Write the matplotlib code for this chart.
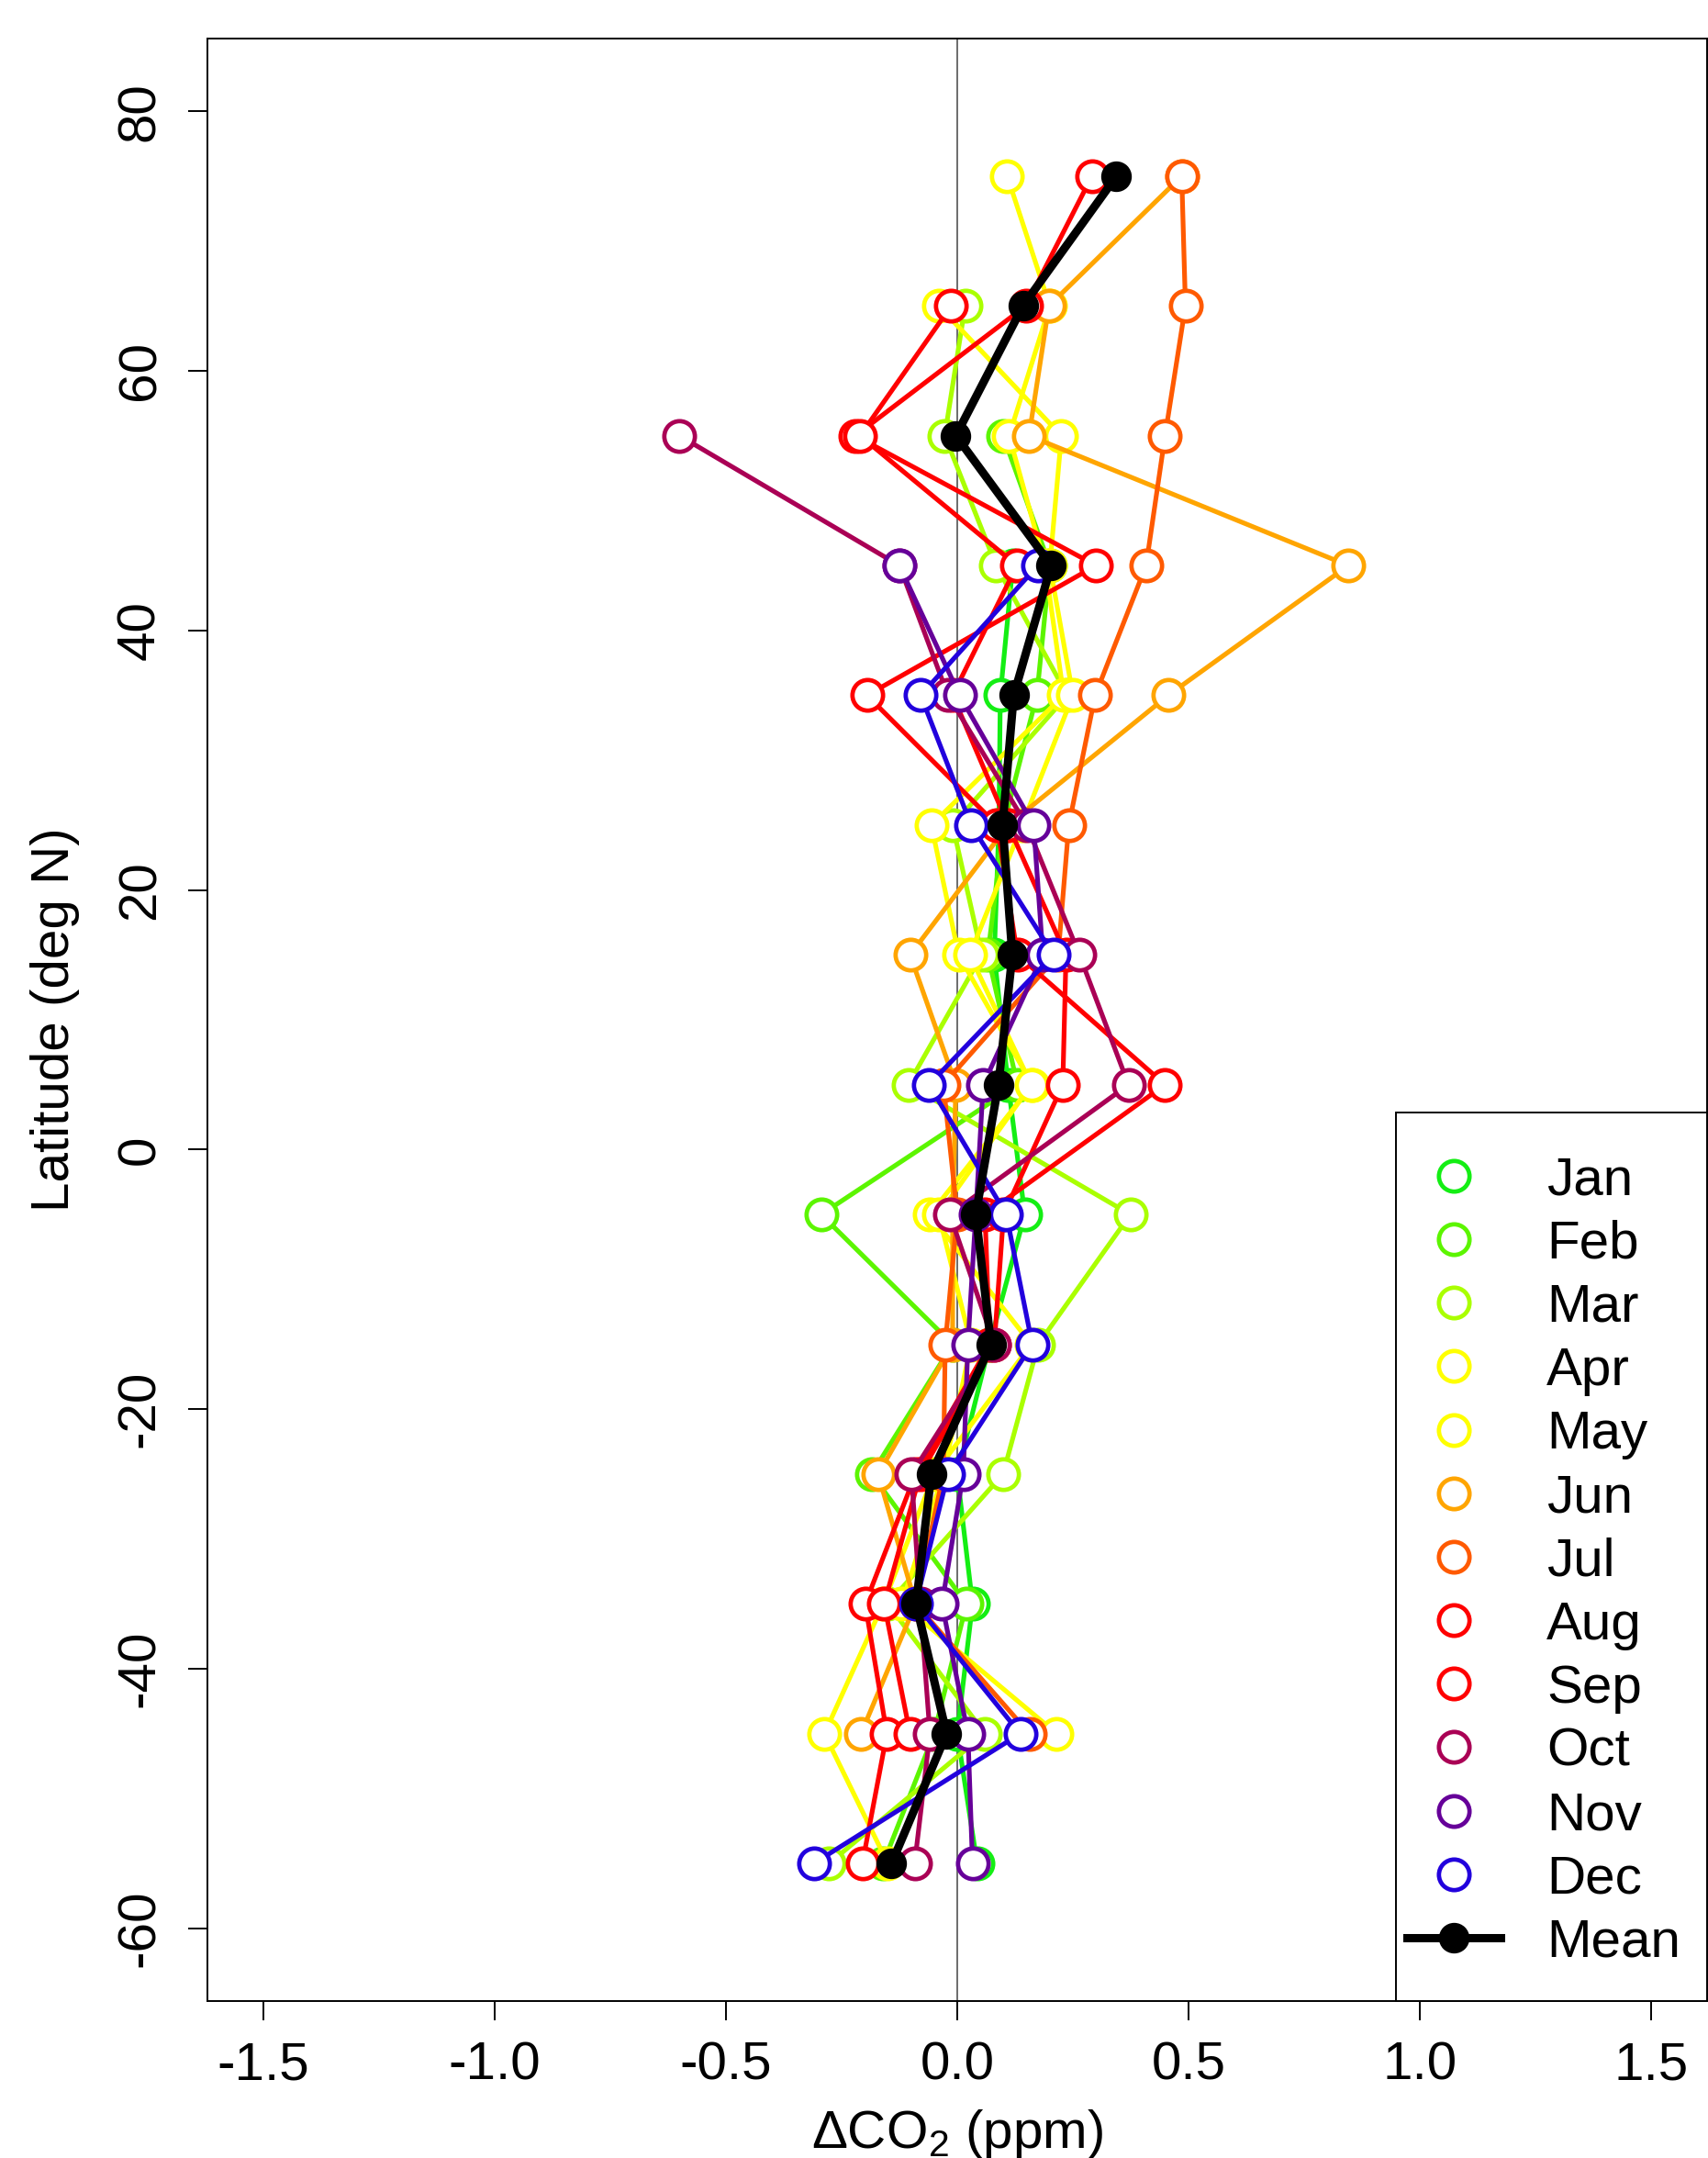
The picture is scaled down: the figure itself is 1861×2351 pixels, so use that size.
import numpy as np
import matplotlib
matplotlib.use("Agg")
import matplotlib.pyplot as plt
from matplotlib.lines import Line2D
from matplotlib.patches import Rectangle

nan = np.nan

# latitude band centres (deg N)
lat = [75, 65, 55, 45, 35, 25, 15, 5, -5, -15, -25, -35, -45, -55]

# monthly CO2 anomaly per band (ppm), NaN where a month has no data
d_jan = [nan, nan, nan, 0.120, 0.093, 0.090, 0.080, 0.110, 0.146, 0.070, 0.000, 0.033, 0.000, 0.043]
d_feb = [nan, nan, 0.099, 0.200, 0.172, 0.100, 0.066, 0.130, -0.294, -0.010, -0.185, 0.020, -0.050, -0.160]
d_mar = [nan, 0.017, -0.027, 0.084, 0.238, -0.010, 0.053, -0.106, 0.374, 0.175, 0.099, -0.150, 0.060, -0.277]
d_apr = [0.108, 0.200, 0.112, 0.190, 0.230, -0.056, 0.003, 0.162, -0.059, 0.160, -0.050, -0.160, -0.287, -0.150]
d_may = [nan, -0.040, 0.225, 0.200, 0.250, 0.140, 0.027, 0.160, -0.040, 0.030, -0.030, -0.120, 0.215, nan]
d_jun = [0.485, 0.198, 0.155, 0.845, 0.456, 0.110, -0.102, -0.003, -0.010, -0.010, -0.171, -0.090, -0.208, nan]
d_jul = [0.485, 0.493, 0.449, 0.408, 0.298, 0.241, 0.218, -0.030, 0.000, -0.026, -0.030, -0.090, 0.156, nan]
d_aug = [0.291, 0.148, -0.220, 0.300, -0.195, 0.086, 0.130, 0.449, 0.060, 0.070, -0.090, -0.199, -0.152, -0.205]
d_sep = [nan, -0.013, -0.210, 0.129, -0.010, 0.110, 0.235, 0.228, 0.100, 0.080, -0.080, -0.158, -0.102, nan]
d_oct = [nan, nan, -0.600, -0.125, -0.020, 0.150, 0.264, 0.370, -0.016, 0.080, -0.099, -0.080, -0.059, -0.092]
d_nov = [nan, nan, nan, -0.125, 0.005, 0.165, 0.185, 0.056, 0.040, 0.023, 0.013, -0.033, 0.023, 0.033]
d_dec = [nan, nan, nan, 0.174, -0.079, 0.030, 0.208, -0.061, 0.106, 0.162, -0.020, -0.090, 0.136, -0.310]

# mean over available months
d_mean = [0.344, 0.142, -0.003, 0.203, 0.122, 0.098, 0.119, 0.089, 0.040, 0.073, -0.056, -0.089, -0.023, -0.142]

months = ["Jan", "Feb", "Mar", "Apr", "May", "Jun",
          "Jul", "Aug", "Sep", "Oct", "Nov", "Dec"]
colours = ["#14EE14", "#5CF500", "#AAFF00", "#FFFF00", "#FFFF00", "#FFA500",
           "#FF5A00", "#FF0000", "#FF0000", "#AA0055", "#660099", "#2200DD"]
series = [d_jan, d_feb, d_mar, d_apr, d_may, d_jun,
          d_jul, d_aug, d_sep, d_oct, d_nov, d_dec]

plt.rcParams["font.family"] = ["Liberation Sans", "DejaVu Sans"]
plt.rcParams["mathtext.default"] = "regular"
plt.rcParams["axes.unicode_minus"] = False

W, H = 1861, 2351
fig = plt.figure(figsize=(W / 100, H / 100), dpi=100)
# plot region in pixels: left 226, right 1860, top 42, bottom 2180
ax = fig.add_axes([226 / W, (H - 2180) / H, (1860 - 226) / W, (2180 - 42) / H])

ax.axvline(0, color="#444444", lw=1.1, zorder=1)

for vals, c in zip(series, colours):
    ax.plot(vals, lat, "-o", color=c, lw=3.7, ms=24, mfc="white",
            mec=c, mew=3.4, zorder=2)
ax.plot(d_mean, lat, "-o", color="black", lw=6.5, ms=23, mfc="black",
        mec="black", zorder=3)

ax.set_xlim(-1.62, 1.62)
ax.set_ylim(-65.6, 85.6)
ax.set_xticks(np.arange(-1.5, 1.51, 0.5))
ax.set_xticklabels(["-1.5", "-1.0", "-0.5", "0.0", "0.5", "1.0", "1.5"])
ax.set_yticks(np.arange(-60, 81, 20))
ax.tick_params(direction="out", length=15, width=1.4, labelsize=42)
ax.tick_params(axis="x", pad=16)
ax.tick_params(axis="y", pad=18)
for lab in ax.get_yticklabels():
    lab.set_rotation(90)
    lab.set_va("center")
for s in ax.spines.values():
    s.set_linewidth(1.4)

ax.set_xlabel(r"$\Delta$CO$_2$ (ppm)", fontsize=42, va="center")
ax.xaxis.set_label_coords(0.5, (H - 2325 - (H - 2180)) / (2180 - 42))
ax.set_ylabel("Latitude (deg N)", fontsize=42, va="center")
ax.yaxis.set_label_coords((60 - 226) / (1860 - 226), 0.5)

# legend box drawn separately so its left margin can be narrower
ax.add_patch(Rectangle((0.7925, 0.0), 0.2075, 0.4528, transform=ax.transAxes,
                       facecolor="white", edgecolor="black", lw=1.4,
                       zorder=4, clip_on=False))

handles = [Line2D([], [], ls="none", marker="o", ms=24, mfc="white",
                  mec=c, mew=3.4) for c in colours]
handles.append(Line2D([], [], color="black", lw=6.5, marker="o", ms=23,
                      mfc="black", mec="black"))
leg = ax.legend(handles, months + ["Mean"], loc="lower right",
                bbox_to_anchor=(1.0, 0.0035), fontsize=42, frameon=False,
                borderaxespad=0, handlelength=1.75, handletextpad=0.85,
                labelspacing=0.26, borderpad=0.5, numpoints=1)
leg.set_zorder(5)

fig.savefig("out.png", dpi=100)
